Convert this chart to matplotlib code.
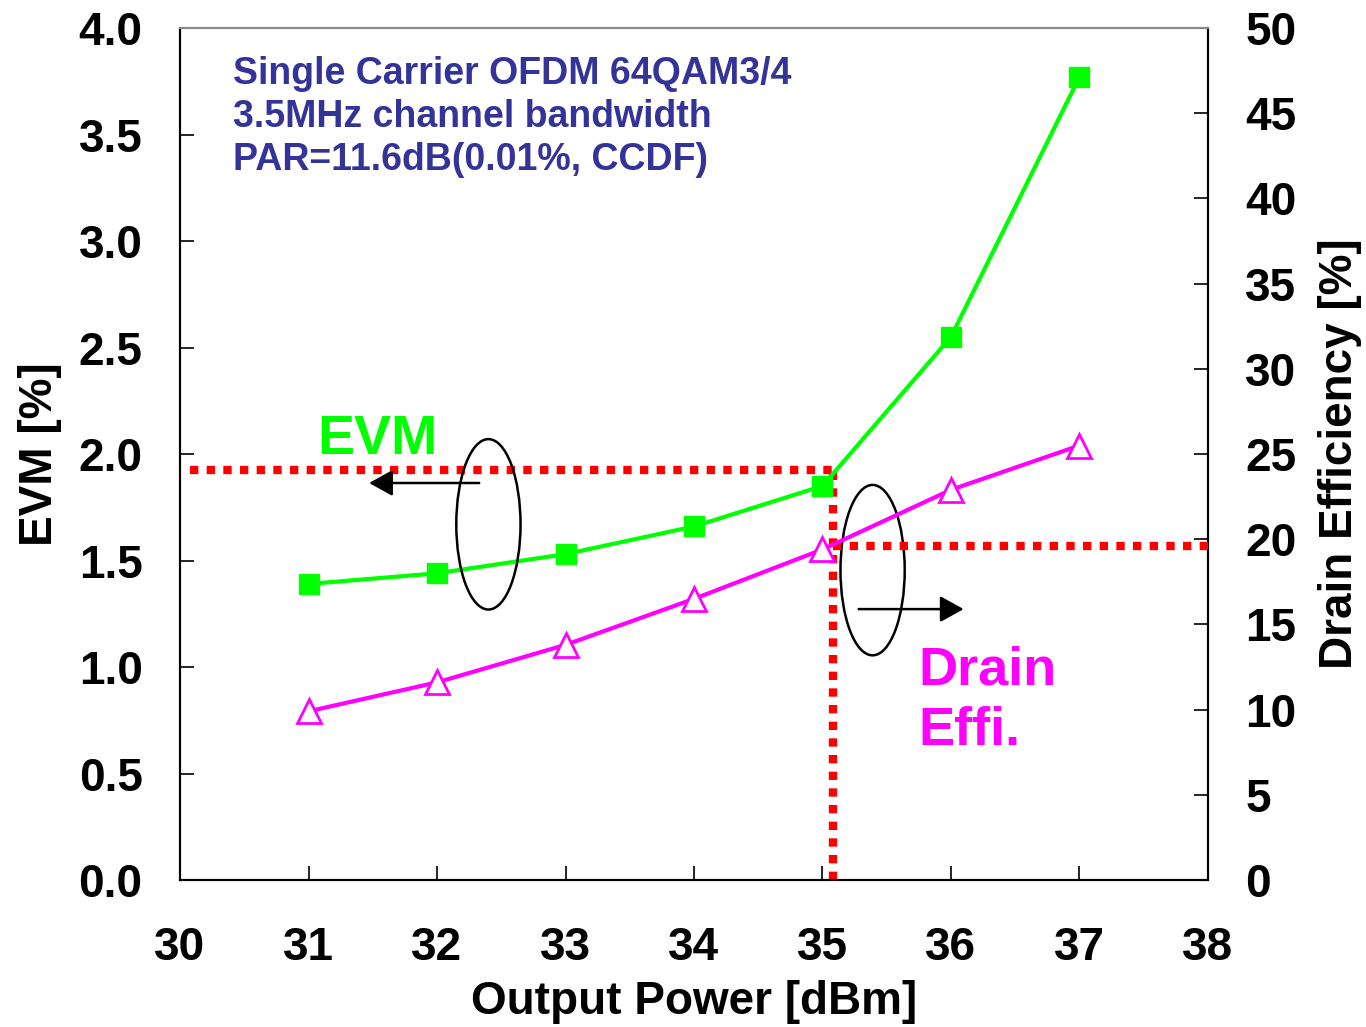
import matplotlib
matplotlib.use("Agg")
import matplotlib.pyplot as plt
from matplotlib.patches import Ellipse

plt.rcParams['font.family'] = ['Liberation Sans', 'DejaVu Sans']
plt.rcParams['font.weight'] = 'bold'

power = [31, 32, 33, 34, 35, 36, 37]
evm = [1.39, 1.44, 1.53, 1.66, 1.85, 2.55, 3.77]
drain_eff = [9.9, 11.6, 13.8, 16.5, 19.4, 22.9, 25.5]

evm_ticks = [0.0, 0.5, 1.0, 1.5, 2.0, 2.5, 3.0, 3.5, 4.0]
eff_ticks = [0, 5, 10, 15, 20, 25, 30, 35, 40, 45, 50]
x_ticks = [30, 31, 32, 33, 34, 35, 36, 37, 38]

# operating point markers
op_power = 35.08
op_evm = 1.925
op_eff = 19.6

fig = plt.figure(figsize=(13.66, 10.27), dpi=100)
ax = fig.add_axes([0.1318, 0.1431, 0.7525, 0.8296])
ax2 = ax.twinx()

ax.plot(power, evm, color='#00ff00', lw=3, marker='s', ms=15, mfc='#00ff00', mec='#00ff00', zorder=4)
ax2.plot(power, drain_eff, color='#ff00ff', lw=3, marker='^', ms=17, mfc='white', mec='#ff00ff', mew=2, zorder=4)

dots = dict(color='#ff0000', lw=6, linestyle=(0, (1, 1)), dash_capstyle='butt', zorder=3)
ax.plot([30.08, op_power], [op_evm, op_evm], **dots)
ax.plot([op_power, op_power], [0, op_evm], **dots)
ax2.plot([op_power, 38], [op_eff, op_eff], **dots)

ax.add_patch(Ellipse((32.40, 1.67), 0.50, 0.80, fill=False, ec='black', lw=1.8, zorder=5))
ax.add_patch(Ellipse((35.39, 1.455), 0.50, 0.80, fill=False, ec='black', lw=1.8, zorder=5))
arrow = dict(arrowstyle='-|>,head_length=0.72,head_width=0.4', color='black', lw=1.8, mutation_scale=20)
ax.annotate('', xy=(31.45, 1.864), xytext=(32.35, 1.864), arrowprops=arrow)
ax.annotate('', xy=(36.12, 1.272), xytext=(35.26, 1.272), arrowprops=arrow)

ax.text(31.07, 2.0, 'EVM', color='#00ff00', fontsize=40, fontweight='bold', va='baseline')
ax.text(35.75, 0.634, 'Drain\nEffi.', color='#ff00ff', fontsize=39, fontweight='bold',
        va='baseline', linespacing=1.28)
ax.text(30.41, 3.87, 'Single Carrier OFDM 64QAM3/4\n3.5MHz channel bandwidth\nPAR=11.6dB(0.01%, CCDF)',
        color='#333399', fontsize=27, fontweight='bold', va='top', linespacing=1.25)

ax.set_xlim(30, 38)
ax.set_ylim(0, 4)
ax2.set_ylim(0, 50)
ax.set_xticks(x_ticks)
ax.set_yticks(evm_ticks)
ax.set_yticklabels(['%.1f' % v for v in evm_ticks])
ax2.set_yticks(eff_ticks)

ax.tick_params(axis='both', direction='in', length=10, width=1.2, labelsize=33, pad=33)
ax.tick_params(axis='y', pad=27)
ax2.tick_params(axis='y', direction='in', length=10, width=1.2, labelsize=33, pad=27)
for lab in ax.get_xticklabels() + ax.get_yticklabels() + ax2.get_yticklabels():
    lab.set_fontweight('bold')
for lab in ax.get_yticklabels():
    lab.set_horizontalalignment('right')
ax2.set_yticklabels([str(v) for v in eff_ticks], ha='left')

ax.set_xlabel('Output Power [dBm]', fontsize=33, fontweight='bold', labelpad=7)
ax.set_ylabel('EVM [%]', fontsize=33, fontweight='bold', labelpad=12)
ax2.set_ylabel('Drain Efficiency [%]', fontsize=33, fontweight='bold', labelpad=15)

for a in (ax, ax2):
    for s in a.spines.values():
        s.set_linewidth(1.5)
    a.spines['top'].set_color('#888888')

fig.savefig('out.png', dpi=100)
